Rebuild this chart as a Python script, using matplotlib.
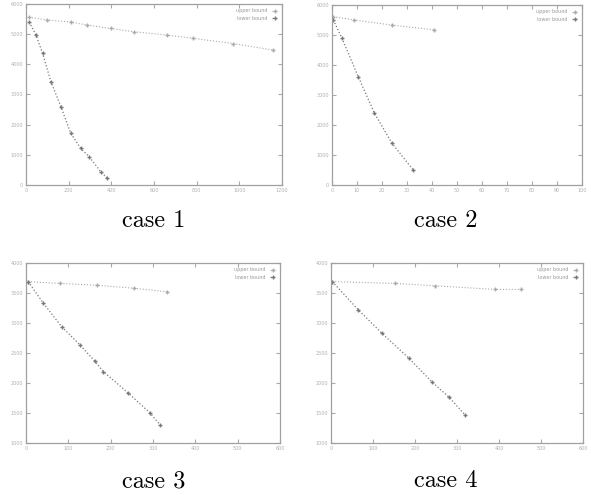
import matplotlib
matplotlib.use('Agg')
import matplotlib.pyplot as plt
import numpy as np

# --- data ---
# case 1
c1_a_x = [14, 100, 210, 288, 397, 505, 663, 785, 972, 1159]
c1_a_y = [5560, 5470, 5400, 5300, 5190, 5080, 4970, 4860, 4690, 4470]
c1_b_x = [15, 47, 78, 117, 164, 210, 257, 296, 350, 382]
c1_b_y = [5400, 4970, 4360, 3420, 2590, 1710, 1210, 940, 440, 220]
# case 2
c2_a_x = [0.5, 9, 24, 41]
c2_a_y = [5610, 5500, 5330, 5170]
c2_b_x = [0.5, 4, 10.5, 17, 24, 32.5]
c2_b_y = [5500, 4890, 3610, 2390, 1390, 500]
# case 3
c3_a_x = [5, 80, 167, 254, 333]
c3_a_y = [3690, 3660, 3630, 3580, 3520]
c3_b_x = [5, 41, 84, 128, 163, 183, 242, 293, 317]
c3_b_y = [3690, 3330, 2940, 2630, 2360, 2190, 1830, 1500, 1300]
# case 4
c4_a_x = [3, 152, 248, 390, 453]
c4_a_y = [3690, 3660, 3620, 3560, 3560]
c4_b_x = [3, 65, 121, 186, 240, 280, 319]
c4_b_y = [3690, 3220, 2830, 2410, 2020, 1770, 1470]

labels = ['upper bound', 'lower bound']
captions = ['case 1', 'case 2', 'case 3', 'case 4']

xticks = [np.arange(0, 1201, 200), np.arange(0, 101, 10),
          np.arange(0, 601, 100), np.arange(0, 601, 100)]
yticks = [np.arange(0, 6001, 1000), np.arange(0, 6001, 1000),
          np.arange(1000, 4001, 500), np.arange(1000, 4001, 500)]

series = [(c1_a_x, c1_a_y, c1_b_x, c1_b_y),
          (c2_a_x, c2_a_y, c2_b_x, c2_b_y),
          (c3_a_x, c3_a_y, c3_b_x, c3_b_y),
          (c4_a_x, c4_a_y, c4_b_x, c4_b_y)]

# axes boxes in pixels: left, top, right, bottom
boxes = [(26, 4, 282, 185), (332, 5, 582, 185),
         (26, 263, 280, 443), (331, 263, 583, 443)]
cap_pos = [(154, 221), (446, 221), (154, 481), (446, 481)]

W, H = 591, 495
fig = plt.figure(figsize=(W / 100, H / 100), dpi=100)

for i in range(4):
    l, t, r, b = boxes[i]
    ax = fig.add_axes([l / W, 1 - b / H, (r - l) / W, (b - t) / H])
    ax_, ay_, bx_, by_ = series[i]
    ax.plot(ax_, ay_, linestyle=':', color='#aaaaaa', linewidth=0.8,
            marker='+', markersize=2.5, label=labels[0])
    ax.plot(bx_, by_, linestyle=':', color='#777777', linewidth=0.9,
            marker='+', markersize=2.5, label=labels[1])
    ax.set_xlim(xticks[i][0], xticks[i][-1])
    ax.set_ylim(yticks[i][0], yticks[i][-1])
    ax.set_xticks(xticks[i])
    ax.set_yticks(yticks[i])
    ax.tick_params(direction='in', top=True, right=True, length=3,
                   labelsize=3.5, colors='#aaaaaa', labelcolor='#b0b0b0', pad=2)
    for s in ax.spines.values():
        s.set_color('#a0a0a0')
        s.set_linewidth(0.9)
    ax.legend(loc='upper right', fontsize=3.5, frameon=False,
              markerfirst=False, handlelength=1.2, labelcolor='#999999')
    fig.text(cap_pos[i][0] / W, 1 - cap_pos[i][1] / H, captions[i],
             ha='center', va='center', fontsize=17.5, family='cmr10')

fig.savefig('out.png', dpi=100)
